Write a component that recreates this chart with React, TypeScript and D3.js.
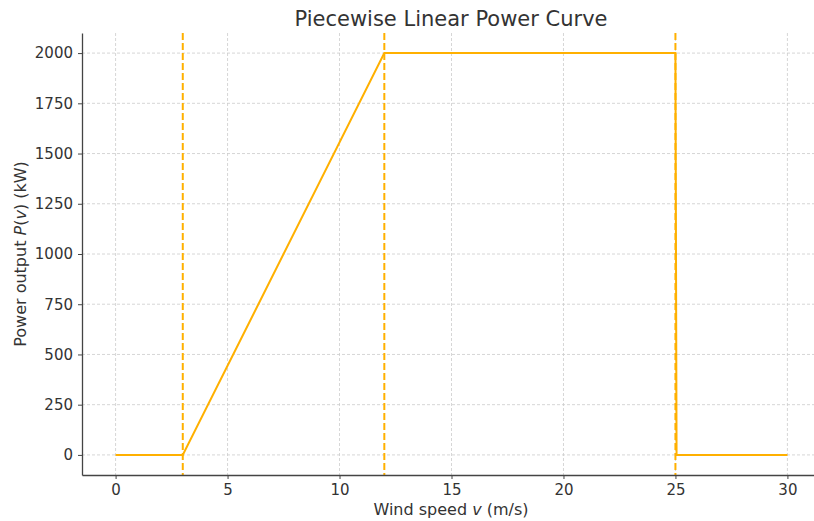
import React, { useEffect, useRef } from "react";
import * as d3 from "d3";

// Power curve breakpoints (wind speed m/s, power kW)
const windSpeed = [0, 3, 12, 25, 25.05, 30];
const powerKw = [0, 0, 2000, 2000, 0, 0];
// Cut-in, rated, cut-out speeds
const markerSpeeds = [3, 12, 25];
const xTicks = [0, 5, 10, 15, 20, 25, 30];
const yTicks = [0, 250, 500, 750, 1000, 1250, 1500, 1750, 2000];

const LINE_COLOR = "#ffb000";

const App = () => {
  const svgRef = useRef<SVGSVGElement>(null);

  useEffect(() => {
    const svg = d3.select(svgRef.current);
    svg.selectAll("*").remove();

    const W = 814;
    const H = 521;
    const margin = { top: 33, left: 82, bottom: 46 };
    const innerBottom = H - margin.bottom;

    const x = d3.scaleLinear().domain([-1.5, 31.5]).range([margin.left, 821]);
    const y = d3.scaleLinear().domain([-100, 2100]).range([innerBottom, margin.top]);

    svg.attr("width", W).attr("height", H).style("font-family", "'DejaVu Sans', sans-serif");

    // Grid
    const grid = svg.append("g");
    grid
      .selectAll(".gx")
      .data(xTicks)
      .enter()
      .append("line")
      .attr("x1", (d) => x(d))
      .attr("x2", (d) => x(d))
      .attr("y1", margin.top)
      .attr("y2", innerBottom)
      .attr("stroke", "#cccccc")
      .attr("stroke-width", 0.8)
      .attr("stroke-dasharray", "3,2");
    grid
      .selectAll(".gy")
      .data(yTicks)
      .enter()
      .append("line")
      .attr("x1", margin.left)
      .attr("x2", W)
      .attr("y1", (d) => y(d))
      .attr("y2", (d) => y(d))
      .attr("stroke", "#cccccc")
      .attr("stroke-width", 0.8)
      .attr("stroke-dasharray", "3,2");

    // Vertical markers
    svg
      .append("g")
      .selectAll("line")
      .data(markerSpeeds)
      .enter()
      .append("line")
      .attr("x1", (d) => x(d))
      .attr("x2", (d) => x(d))
      .attr("y1", margin.top)
      .attr("y2", innerBottom)
      .attr("stroke", LINE_COLOR)
      .attr("stroke-width", 2)
      .attr("stroke-dasharray", "7,3");

    // Curve
    const pts = windSpeed.map((v, i) => [v, powerKw[i]] as [number, number]);
    const line = d3
      .line<[number, number]>()
      .x((d) => x(d[0]))
      .y((d) => y(d[1]));
    svg
      .append("path")
      .datum(pts)
      .attr("d", line)
      .attr("fill", "none")
      .attr("stroke", LINE_COLOR)
      .attr("stroke-width", 2);

    // Axes
    const xAxis = svg
      .append("g")
      .attr("transform", `translate(0,${innerBottom})`)
      .call(
        d3.axisBottom(x).tickValues(xTicks).tickFormat(d3.format("d")).tickSizeInner(4).tickSizeOuter(0).tickPadding(5)
      );
    const yAxis = svg
      .append("g")
      .attr("transform", `translate(${margin.left},0)`)
      .call(
        d3.axisLeft(y).tickValues(yTicks).tickFormat(d3.format("d")).tickSizeInner(4).tickSizeOuter(0).tickPadding(5)
      );
    [xAxis, yAxis].forEach((a) => {
      a.select(".domain").attr("stroke", "#444").attr("stroke-width", 1.3);
      a.selectAll(".tick line").attr("stroke", "#444");
      a.selectAll("text")
        .style("font-size", "15px")
        .style("font-family", "'DejaVu Sans', sans-serif")
        .attr("fill", "#333");
    });

    // Labels
    const xl = svg
      .append("text")
      .attr("x", 451)
      .attr("y", 515)
      .attr("text-anchor", "middle")
      .style("font-size", "16px")
      .attr("fill", "#333");
    xl.append("tspan").text("Wind speed ");
    xl.append("tspan").style("font-style", "italic").text("v");
    xl.append("tspan").text(" (m/s)");

    const yl = svg
      .append("text")
      .attr("transform", `translate(26,${y(1000)}) rotate(-90)`)
      .attr("text-anchor", "middle")
      .style("font-size", "16px")
      .attr("fill", "#333");
    yl.append("tspan").text("Power output ");
    yl.append("tspan").style("font-style", "italic").text("P");
    yl.append("tspan").text("(");
    yl.append("tspan").style("font-style", "italic").text("v");
    yl.append("tspan").text(") (kW)");

    svg
      .append("text")
      .attr("x", 451)
      .attr("y", 26)
      .attr("text-anchor", "middle")
      .style("font-size", "21px")
      .attr("fill", "#333")
      .text("Piecewise Linear Power Curve");
  }, []);

  return <svg ref={svgRef} style={{ position: "absolute", left: 0, top: 0 }} />;
};

export default App;
